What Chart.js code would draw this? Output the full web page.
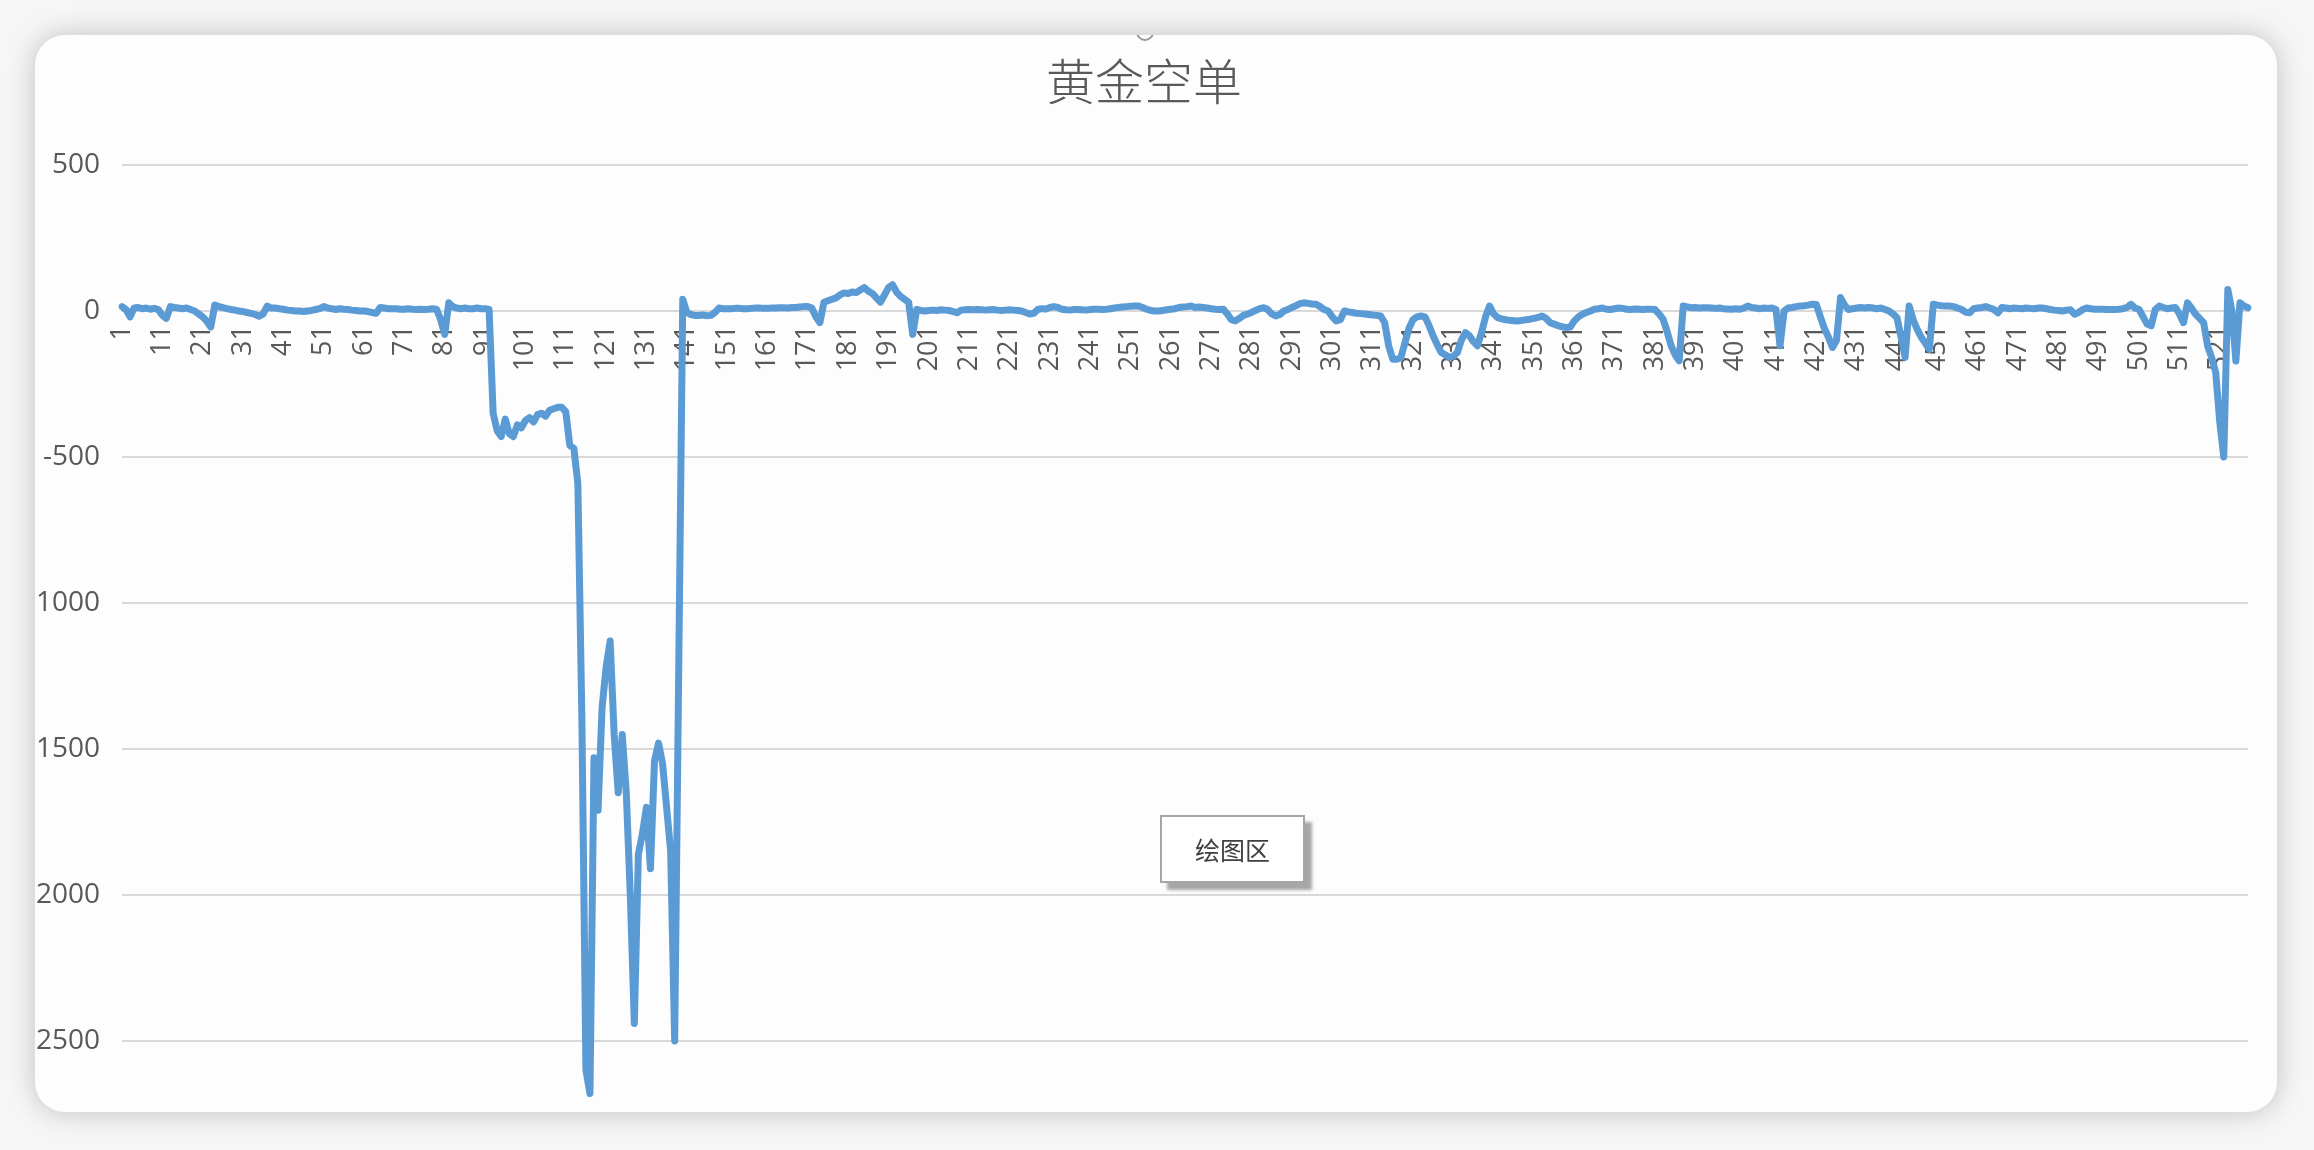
<!DOCTYPE html>
<html>
<head>
<meta charset="utf-8">
<script src="https://cdn.jsdelivr.net/npm/chart.js@4.4.1/dist/chart.umd.min.js"></script>
<style>
  html, body { margin: 0; padding: 0; }
  body { width: 2314px; height: 1150px; background: #f6f6f6; position: relative; overflow: hidden; }
  #card {
    position: absolute; left: 35px; top: 35px; width: 2242px; height: 1077px;
    background: #fdfdfd; border-radius: 30px; overflow: hidden;
    box-shadow: 0 0 28px rgba(0, 0, 0, 0.22);
  }
  #chart { position: absolute; left: -35px; top: -35px; }
  #title {
    position: absolute; left: -12px; width: 2242px; top: 8px; text-align: center;
    font-family: "Noto Sans CJK SC", sans-serif; font-weight: 300; font-size: 49px; color: #595959;
  }
  #handle {
    position: absolute; left: 1101px; top: -12px; width: 14px; height: 14px;
    border: 2px solid #9a9a9a; border-radius: 50%;
  }
  #plotTip {
    position: absolute; left: 1125px; top: 780px; width: 141px; height: 64px;
    background: #ffffff; border: 2px solid #a6a6a6;
    box-shadow: 7px 7px 3px rgba(120, 120, 120, 0.65);
    font-family: "Noto Sans CJK SC", sans-serif; font-size: 25px; color: #404040;
    display: flex; align-items: center; justify-content: center;
  }
</style>
</head>
<body>
<div id="card">
  <canvas id="chart" width="2314" height="1250"></canvas>
  <div id="handle"></div>
  <div id="title">黄金空单</div>
  <div id="plotTip">绘图区</div>
</div>
<script>
// 数据：黄金空单 每期盈亏
const shortPnl = [
  15, 5, -20, 10, 12, 8, 10, 6, 9, 5,
  -15, -25, 15, 12, 10, 8, 10, 5, 0, -10,
  -20, -35, -55, 20, 15, 12, 8, 5, 3, 0,
  -2, -5, -8, -12, -18, -10, 17, 10, 10, 8,
  6, 3, 2, 0, 0, -2, 0, 2, 5, 8,
  15, 10, 8, 5, 8, 6, 5, 3, 2, 0,
  0, -2, -5, -8, 12, 10, 8, 8, 8, 6,
  6, 8, 6, 5, 6, 5, 6, 8, 5, -30,
  -80, 28, 15, 10, 8, 10, 8, 8, 10, 8,
  8, 5, -350, -410, -430, -370, -420, -430, -390, -400,
  -375, -365, -380, -355, -350, -360, -340, -335, -330, -330,
  -345, -460, -470, -590, -1400, -2600, -2680, -1530, -1710, -1360,
  -1220, -1130, -1450, -1650, -1450, -1650, -2000, -2440, -1860, -1790,
  -1700, -1910, -1540, -1480, -1550, -1700, -1850, -2500, -1230, 40,
  -5, -12, -15, -15, -14, -16, -15, -5, 10, 8,
  8, 8, 9, 9, 8, 8, 9, 10, 10, 9,
  9, 10, 10, 11, 11, 10, 12, 12, 14, 15,
  15, 10, -20, -40, 30, 35, 40, 45, 55, 62,
  60, 65, 63, 72, 80, 68, 60, 45, 30, 55,
  80, 90, 65, 50, 40, 30, -80, 5, 2, 0,
  2, 3, 2, 4, 3, 2, -2, -6, 3, 4,
  5, 4, 5, 4, 3, 4, 5, 3, 2, 3,
  4, 3, 2, 0, -5, -10, -8, 5, 8, 7,
  12, 15, 12, 6, 4, 3, 5, 5, 4, 3,
  5, 6, 6, 5, 6, 8, 10, 12, 14, 15,
  16, 17, 17, 12, 6, 2, 0, 0, 2, 4,
  6, 8, 12, 14, 15, 17, 12, 14, 12, 10,
  8, 6, 5, 6, -10, -30, -34, -25, -15, -10,
  -5, 2, 8, 11, 5, -10, -17, -12, 0, 5,
  12, 18, 25, 28, 26, 24, 23, 15, 5, 0,
  -20, -34, -30, 0, -3, -5, -8, -9, -10, -12,
  -14, -15, -17, -40, -120, -165, -165, -160, -110, -60,
  -30, -20, -17, -20, -50, -85, -115, -142, -150, -159,
  -155, -142, -100, -74, -85, -105, -119, -74, -20, 17,
  -10, -23, -27, -30, -32, -33, -34, -32, -30, -28,
  -25, -22, -17, -25, -40, -45, -50, -54, -57, -55,
  -34, -20, -11, -5, 0, 6, 8, 10, 6, 5,
  8, 10, 9, 6, 5, 7, 6, 5, 6, 6,
  5, -10, -28, -70, -119, -150, -171, 17, 14, 11,
  12, 10, 11, 11, 10, 9, 10, 8, 7, 6,
  8, 6, 10, 17, 12, 10, 8, 10, 9, 10,
  5, -119, 0, 10, 12, 15, 17, 18, 20, 23,
  22, -20, -60, -90, -125, -100, 46, 20, 5, 8,
  10, 12, 10, 12, 10, 8, 10, 5, 0, -10,
  -23, -90, -159, 17, -30, -63, -90, -110, -131, 23,
  20, 18, 17, 17, 15, 10, 5, -4, -6, 8,
  10, 12, 15, 10, 5, -6, 12, 10, 8, 10,
  9, 8, 10, 9, 8, 10, 10, 8, 5, 3,
  2, 0, 3, 4, -11, -5, 5, 10, 8, 6,
  6, 6, 5, 5, 5, 6, 8, 12, 23, 10,
  5, -20, -45, -51, 5, 17, 12, 8, 10, 12,
  -10, -40, 28, 10, -11, -25, -40, -120, -160, -211,
  -380, -500, 74, 0, -171, 28, 17, 11
];

// 类别：序号 1..N
const categories = shortPnl.map((v, i) => String(i + 1));

// 纵轴刻度
const yMin = -3000;
const yMax = 500;
const yStep = 500;

const ctx = document.getElementById('chart').getContext('2d');

new Chart(ctx, {
  type: 'line',
  data: {
    labels: categories,
    datasets: [{
      label: '黄金空单',
      data: shortPnl,
      borderColor: '#5b9bd5',
      borderWidth: 7,
      borderJoinStyle: 'round',
      borderCapStyle: 'round',
      pointRadius: 0,
      tension: 0,
      fill: false
    }]
  },
  options: {
    responsive: false,
    animation: false,
    layout: { padding: { left: 0, right: 66, top: 165, bottom: 63 } },
    plugins: {
      legend: { display: false },
      tooltip: { enabled: false }
    },
    scales: {
      x: {
        position: { y: 0 },
        offset: false,
        grid: { display: false, drawTicks: false },
        border: { display: true, color: '#d9d9d9', width: 2 },
        ticks: {
          autoSkip: false,
          minRotation: 90,
          maxRotation: 90,
          padding: 14,
          color: '#595959',
          font: { family: 'Open Sans', size: 27 },
          callback: function(value, index) {
            return index % 10 === 0 ? categories[index] : '';
          }
        }
      },
      y: {
        min: yMin,
        max: yMax,
        afterFit: function(scale) { scale.width = 122; },
        grid: { color: '#d9d9d9', lineWidth: 2, drawTicks: false },
        border: { display: false },
        ticks: {
          stepSize: yStep,
          padding: 22,
          color: '#595959',
          font: { family: 'Open Sans', size: 28 },
          callback: function(value) { return String(value); }
        }
      }
    }
  }
});
</script>
</body>
</html>
